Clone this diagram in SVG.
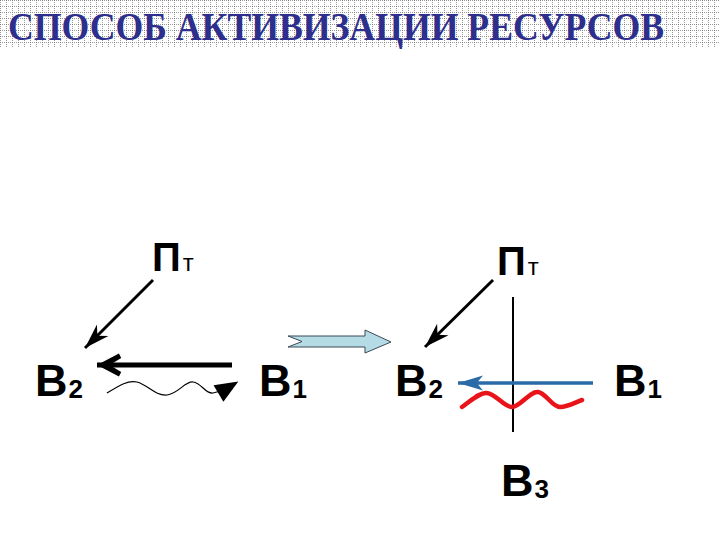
<svg xmlns="http://www.w3.org/2000/svg" width="720" height="540" viewBox="0 0 720 540">
<defs>
<pattern id="grid" width="6" height="6" patternUnits="userSpaceOnUse">
<rect x="0" y="0" width="1" height="1" fill="#7a7a7a"/>
<rect x="2" y="0" width="1" height="1" fill="#9a9a9a"/>
<rect x="4" y="0" width="1" height="1" fill="#9a9a9a"/>
<rect x="0" y="2" width="1" height="1" fill="#9a9a9a"/>
<rect x="0" y="4" width="1" height="1" fill="#9a9a9a"/>
</pattern>
<marker id="stealth" markerWidth="30" markerHeight="30" refX="0" refY="0" viewBox="-22 -10 24 20" orient="auto" markerUnits="userSpaceOnUse">
<path d="M0,0 L-20,-6.5 L-14,0 L-20,6.5 Z" fill="#000"/>
</marker>
<marker id="thick" markerWidth="30" markerHeight="30" refX="0" refY="0" viewBox="-24 -12 26 24" orient="auto" markerUnits="userSpaceOnUse">
<path d="M0,0 L-19,-10 L-21,-6 L-11,0 L-21,6 L-19,10 Z" fill="#000"/>
</marker>
<marker id="blue" markerWidth="30" markerHeight="30" refX="0" refY="0" viewBox="-22 -10 24 20" orient="auto" markerUnits="userSpaceOnUse">
<path d="M0,0 L-20,-6 L-15,0 L-20,6 Z" fill="#2a6aa6"/>
</marker>
<marker id="tri" markerWidth="30" markerHeight="30" refX="0" refY="0" viewBox="-20 -10 22 20" orient="auto" markerUnits="userSpaceOnUse">
<path d="M2,0 L-15,-7 L-15,7 Z" fill="#000"/>
</marker>
<style>
.t{font-family:"Liberation Serif","Times New Roman",serif;font-weight:bold;fill:#2e2e8c}
.m{font-family:"Liberation Sans",Arial,sans-serif;font-weight:bold;fill:#000}
.s{font-family:"Liberation Sans",Arial,sans-serif;font-weight:normal;fill:#000}
.ln{fill:none;stroke:#000}
</style>
</defs>
<rect width="720" height="540" fill="#fff"/>
<rect x="0" y="0" width="720" height="48" fill="url(#grid)"/>
<text class="t" x="8" y="40" font-size="40" textLength="656" lengthAdjust="spacingAndGlyphs">СПОСОБ АКТИВИЗАЦИИ РЕСУРСОВ</text>

<g id="connectors">
<line class="ln" x1="153" y1="280" x2="85" y2="348" stroke-width="3" marker-end="url(#stealth)"/>
<line class="ln" x1="232" y1="365" x2="97" y2="365" stroke-width="5" marker-end="url(#thick)"/>
<path class="ln" d="M107,393 C120,385 128,380 137,382 C148,385 155,396 167,395 C178,394 185,381 193,382 C202,383 205,394 213,393 C220,392 226,389 236,383" stroke-width="1.2" marker-end="url(#tri)"/>
<path d="M288,336 L365,336 L365,330 L391,342 L365,353 L365,347 L288,347 L302,341.5 Z" fill="#b5dbe6" stroke="#3a4a55" stroke-width="1"/>
<line class="ln" x1="493" y1="280" x2="425" y2="347" stroke-width="3" marker-end="url(#stealth)"/>
<line class="ln" x1="513" y1="297" x2="513" y2="432" stroke-width="2"/>
<line x1="593" y1="383" x2="458" y2="383" stroke="#2a6aa6" stroke-width="3.5" marker-end="url(#blue)"/>
<path d="M462,407 C472,400 480,392 487,393 C496,394 504,407 512,407 C520,407 530,391 538,392 C546,393 552,407 560,407 C568,407 576,402 582,400" fill="none" stroke="#e8141a" stroke-width="4.5" stroke-linecap="round"/>
</g>

<g id="node-P-left"><text class="m" x="152" y="271" font-size="40">П<tspan class="s" font-size="24" dx="2">т</tspan></text></g>
<g id="node-B2-left"><text class="m" x="35" y="396" font-size="45">B<tspan font-size="26" dx="1" dy="2">2</tspan></text></g>
<g id="node-B1-left"><text class="m" x="259" y="396" font-size="45">B<tspan font-size="26" dx="1" dy="2">1</tspan></text></g>
<g id="node-P-right"><text class="m" x="497" y="275" font-size="40">П<tspan class="s" font-size="24" dx="2">т</tspan></text></g>
<g id="node-B2-right"><text class="m" x="395" y="396" font-size="45">B<tspan font-size="26" dx="1" dy="2">2</tspan></text></g>
<g id="node-B1-right"><text class="m" x="614" y="396" font-size="45">B<tspan font-size="26" dx="1" dy="2">1</tspan></text></g>
<g id="node-B3"><text class="m" x="501" y="496" font-size="45">B<tspan font-size="26" dx="1" dy="2">3</tspan></text></g>
</svg>
